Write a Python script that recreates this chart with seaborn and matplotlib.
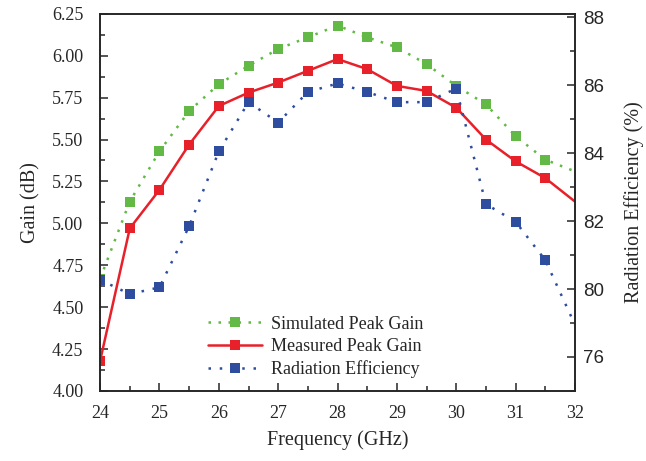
import pandas as pd
import seaborn as sns
import matplotlib.pyplot as plt
from matplotlib.ticker import MultipleLocator

freq = [24, 24.5, 25, 25.5, 26, 26.5, 27, 27.5, 28, 28.5, 29, 29.5, 30, 30.5, 31, 31.5, 32]
sim_gain = [4.67, 5.13, 5.43, 5.67, 5.83, 5.94, 6.04, 6.11, 6.18, 6.11, 6.05, 5.95, 5.82, 5.71, 5.52, 5.38, 5.31]
meas_gain = [4.18, 4.97, 5.20, 5.47, 5.70, 5.78, 5.84, 5.91, 5.98, 5.92, 5.82, 5.79, 5.69, 5.50, 5.37, 5.27, 5.13]
rad_eff = [80.27, 79.85, 80.05, 81.85, 84.05, 85.5, 84.9, 85.8, 86.05, 85.8, 85.5, 85.5, 85.9, 82.5, 81.98, 80.85, 78.95]

# right axis tick labels as printed in the figure (the "76" label sits on the 78 tick)
eff_ticks = [78, 80, 82, 84, 86, 88]
eff_labels = ["76", "80", "82", "84", "86", "88"]

df = pd.DataFrame({"Frequency": freq, "Sim": sim_gain, "Meas": meas_gain, "Eff": rad_eff})

sns.set_style("ticks")
plt.rcParams['font.family'] = ['Liberation Serif', 'DejaVu Serif']

fig = plt.figure(figsize=(6.46, 4.61), dpi=100)
ax1 = fig.add_axes([0.155, 0.152, 0.735, 0.818])
ax2 = ax1.twinx()

green = "#62b946"
red = "#e8202a"
blue = "#2f4d9f"
mk = list(range(len(freq) - 1))  # no marker at 32 GHz

sns.lineplot(data=df, x="Frequency", y="Sim", ax=ax1, color=green, marker="s", markersize=7,
             markeredgewidth=0, linewidth=1.8, linestyle=(0, (1, 3)), markevery=mk,
             label="Simulated Peak Gain", legend=False)
sns.lineplot(data=df, x="Frequency", y="Meas", ax=ax1, color=red, marker="s", markersize=7,
             markeredgewidth=0, linewidth=1.8, markevery=mk,
             label="Measured Peak Gain", legend=False)
sns.lineplot(data=df, x="Frequency", y="Eff", ax=ax2, color=blue, marker="s", markersize=7,
             markeredgewidth=0, linewidth=1.8, linestyle=(0, (1, 3.5)), markevery=mk,
             label="Radiation Efficiency", legend=False)

ax1.set_xlim(24, 32)
ax1.set_ylim(4.0, 6.25)
ax2.set_ylim(77, 88.1)

ax1.xaxis.set_major_locator(MultipleLocator(1))
ax1.xaxis.set_minor_locator(MultipleLocator(0.5))
ax1.yaxis.set_major_locator(MultipleLocator(0.25))
ax1.yaxis.set_minor_locator(MultipleLocator(0.125))
ax1.yaxis.set_major_formatter(plt.FormatStrFormatter('%.2f'))
ax2.yaxis.set_minor_locator(MultipleLocator(1))
ax2.set_yticks(eff_ticks)
ax2.set_yticklabels(eff_labels, family="Liberation Sans")

for a in (ax1, ax2):
    a.tick_params(which="both", direction="in", labelsize=13, width=1.1)
    a.tick_params(which="major", length=6)
    a.tick_params(which="minor", length=3.5)
    for s in a.spines.values():
        s.set_linewidth(1.2)
ax1.tick_params(axis="y", which="both", right=False)
ax1.tick_params(axis="y", pad=12)
ax2.tick_params(axis="y", labelsize=13.5, pad=6)
ax1.tick_params(axis="x", pad=10)

ax1.set_xlabel("Frequency (GHz)", fontsize=14.5, labelpad=6)
ax1.set_ylabel("Gain (dB)", fontsize=14.5, labelpad=8)
ax2.set_ylabel("Radiation Efficiency (%)", fontsize=14.5, labelpad=14)

h1, l1 = ax1.get_legend_handles_labels()
h2, l2 = ax2.get_legend_handles_labels()
ax1.legend(h1 + h2, l1 + l2, loc="lower left", bbox_to_anchor=(0.2, 0.0), frameon=False,
           fontsize=13, handlelength=3.0, handletextpad=0.5, labelspacing=0.3, borderaxespad=0.3)

fig.savefig("out.png", dpi=100)
